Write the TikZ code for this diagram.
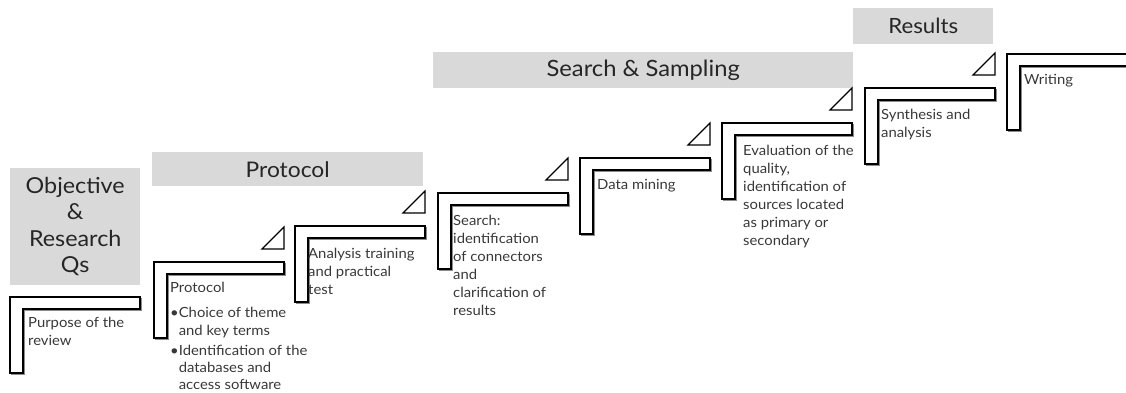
\documentclass[tikz,border=0pt]{standalone}
\usepackage{fontspec}
\setmainfont{Lato}[FakeStretch=1.06]
\definecolor{hdr}{HTML}{D9D9D9}
\definecolor{txt}{HTML}{383838}
\tikzset{
  lshape/.style={draw=black, fill=white, line width=1.1pt, line join=miter},
  lshadow/.style={draw=black!45, line width=1.1pt},
  tri/.style={draw=black, line width=1.1pt, line join=miter},
  hdrbox/.style={fill=hdr, draw=none, inner sep=0pt, text=black!85, align=center},
  body/.style={anchor=north west, align=left, text=txt, inner sep=0pt,
    font=\fontsize{14}{18}\selectfont},
}
\newcommand\myLpath[2]{(#1,#2) -- ({#1+130},#2) -- ({#1+130},{#2+12}) -- ({#1+13},{#2+12}) -- ({#1+13},{#2+76}) -- (#1,{#2+76}) -- cycle}
\newcommand\myL[2]{%
  \draw[lshadow, shift={(1.4,1.4)}] \myLpath{#1}{#2};
  \draw[lshape] \myLpath{#1}{#2};
}
\newcommand\myTri[2]{%
  \draw[tri] ({#1+108},{#2-13}) -- ({#1+130},{#2-13}) -- ({#1+130},{#2-35}) -- cycle;
}
\begin{document}
\begin{tikzpicture}[x=1pt, y=-1pt]
\useasboundingbox (0,0) rectangle (1126,392);
\clip (0,0) rectangle (1126,392);
% header boxes
\node[hdrbox, anchor=north west, minimum width=130pt, minimum height=117pt,
  font=\fontsize{22}{26.5}\selectfont] (h1) at (10,168) {Objective\\\&\\Research\\Qs};
\node[hdrbox, anchor=north west, minimum width=271pt, minimum height=34pt,
  font=\fontsize{21.5}{24}\selectfont] (h2) at (152,152) {Protocol};
\node[hdrbox, anchor=north west, minimum width=420pt, minimum height=36pt,
  font=\fontsize{22.4}{24}\selectfont] (h3) at (433,52) {Search \& Sampling};
\node[hdrbox, anchor=north west, minimum width=140pt, minimum height=36pt,
  font=\fontsize{21}{22}\selectfont] (h4) at (853,8) {Results};
% steps
\myL{10}{297}
\myL{154}{262}\myTri{154}{262}
\myL{295}{226}\myTri{295}{226}
\myL{438}{193}\myTri{438}{193}
\myL{580}{158}\myTri{580}{158}
\myL{722}{123}\myTri{722}{123}
\myL{865}{88}\myTri{865}{88}
\myL{1007}{54}
% texts
\node[body] (t1) at (28,317) {Purpose of the\\review};
\node[body] (t2) at (170,282) {Protocol\\[7pt]%
  \textbullet Choice of theme\\\phantom{\textbullet}and key terms\\[2pt]%
  \textbullet Identification of the\\[-1pt]\phantom{\textbullet}databases and\\[-1pt]\phantom{\textbullet}access software};
\node[body] (t3) at (308,248) {Analysis training\\and practical\\test};
\node[body] (t4) at (453,215) {Search:\\identification\\of connectors\\and\\clarification of\\results};
\node[body] (t5) at (597,179) {Data mining};
\node[body] (t6) at (743,145) {Evaluation of the\\quality,\\identification of\\sources located\\as primary or\\secondary};
\node[body] (t7) at (881,109) {Synthesis and\\analysis};
\node[body] (t8) at (1024,74) {Writing};
\end{tikzpicture}
\end{document}
